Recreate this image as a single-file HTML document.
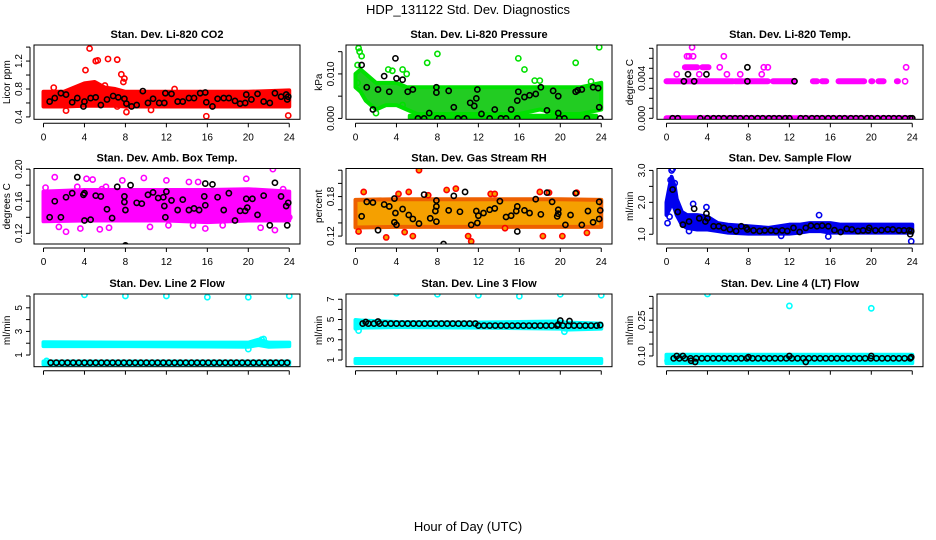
<!DOCTYPE html>
<html><head><meta charset="utf-8"><style>
body{margin:0;background:#fff}
svg{display:block;font-family:"Liberation Sans",sans-serif}
</style></head><body>
<svg id="chart" width="936" height="540" viewBox="0 0 936 540">
<text x="468" y="14" text-anchor="middle" font-size="13">HDP_131122  Std. Dev. Diagnostics</text>
<text x="468" y="531" text-anchor="middle" font-size="13">Hour of Day (UTC)</text>
</svg>
<script>
// ---- data (hours, values) ----
const xTicks = [0,4,8,12,16,20,24];
const panelTitles = ["Stan. Dev. Li-820 CO2","Stan. Dev. Li-820 Pressure","Stan. Dev. Li-820 Temp.","Stan. Dev. Amb. Box Temp.","Stan. Dev. Gas Stream RH","Stan. Dev. Sample Flow","Stan. Dev. Line 2 Flow","Stan. Dev. Line 3 Flow","Stan. Dev. Line 4 (LT) Flow"];
const yTitles = ["Licor ppm","kPa","degrees C","degrees C","percent","ml/min","ml/min","ml/min","ml/min"];
const yTickVals = [[0.4,0.6,0.8,1.0,1.2,1.4],[0,0.005,0.01,0.015],[0,0.001,0.002,0.003,0.004,0.005,0.006,0.007],[0.12,0.14,0.16,0.18,0.2],[0.12,0.14,0.16,0.18,0.2,0.22],[1,1.5,2,2.5,3],[1,2,3,4,5,6],[1,2,3,4,5,6,7],[0.1,0.15,0.2,0.25,0.3,0.35]];
const yTickLabels = [["0.4","","0.8","","1.2",""],["0.000","","0.010",""],["0.000","","","","0.004","","",""],["0.12","","0.16","","0.20"],["0.12","","","0.18","",""],["1.0","","2.0","","3.0"],["1","","3","","5",""],["1","","3","","5","","7"],["0.10","","","0.25","",""]];
const yLimits = [[0.366,1.43],[-0.0002,0.0165],[-0.0001,0.00733],[0.1067,0.2008],[0.108,0.2226],[0.695,3.06],[0.01,6.17],[0.34,7.52],[0.055,0.36]];

// bands: [hours, lows, highs]
const co2Band = [[0,2,4,5,6,7,8,12,16,20,24],[0.55,0.55,0.56,0.56,0.56,0.56,0.55,0.55,0.55,0.55,0.55],[0.76,0.76,0.88,0.9,0.82,0.8,0.76,0.76,0.76,0.76,0.78]];
const presBand = [[0,0.5,1,2,3,4,5,6,8,10,12,14,16,18,20,22,24],[0.007,0.006,0.004,0.002,0.003,0.003,0.002,0.001,0.001,0.001,0.001,0.001,0.001,0.002,0.001,0.001,0.002],[0.010,0.011,0.010,0.008,0.008,0.008,0.007,0.007,0.007,0.007,0.007,0.007,0.007,0.007,0.007,0.007,0.008]];
const presBase = [[5.3,23.5],[0,0],[0.0006,0.0006]];
const ambBand = [[0,4,8,12,16,20,24],[0.135,0.136,0.136,0.136,0.134,0.136,0.136],[0.172,0.174,0.174,0.174,0.174,0.175,0.172]];
const rhBand = [[0,4,8,12,16,20,24],[0.133,0.134,0.134,0.134,0.134,0.134,0.134],[0.175,0.176,0.176,0.176,0.176,0.176,0.175]];
const flowBand = [[0,0.3,0.5,0.8,1,1.5,2,3,4,5,6,8,10,12,13,14,15,16,17,18,20,22,24],[1.6,1.8,2.0,1.8,1.6,1.3,1.2,1.15,1.15,1.1,1.05,1.02,1.02,1.02,1.05,1.1,1.1,1.05,1.05,1.05,1.05,1.05,1.05],[2.0,2.5,2.8,2.5,2.1,1.7,1.6,1.6,1.55,1.35,1.3,1.25,1.2,1.3,1.3,1.35,1.35,1.35,1.3,1.3,1.3,1.3,1.3]];
const l2BandHi = [[0,8,16,20,21,22,24],[1.75,1.75,1.72,1.7,1.85,1.7,1.75],[2.08,2.05,2.05,2.05,2.3,2.05,2.05]];
const l2BandLo = [[0,24],[0.2,0.2],[0.45,0.45]];
const l3BandHi = [[0,0.5,4,12,20,20.5,24],[4.1,4.2,4.25,4.2,4.1,4.0,4.1],[4.95,4.9,4.75,4.7,4.8,4.7,4.6]];
const l3BandLo = [[0,24],[0.7,0.7],[1.1,1.1]];
const l4Band = [[0,12,24],[0.07,0.07,0.07],[0.105,0.105,0.105]];

// runs: [startHour, endHour, value]
const tempRuns = [[0,24,0],[0,4.6,0.0037],[4.7,6.5,0.0037],[6.7,7.4,0.0037],[7.6,9.9,0.0037],[10.4,12.5,0.0037],[14.3,14.7,0.0037],[15.2,15.6,0.0037],[16.8,19.3,0.0037],[20,20.1,0.0037],[20.7,21.2,0.0037],[22.5,22.6,0.0037],[1.8,3.0,0.0051],[3.5,4.1,0.0051]];
const l2BlackRun = [[0.7,24,0.35]];
const l3BlackRun = [[0.7,12,4.6],[12,24,4.4]];
const l4BlackRun = [[0.7,24,0.09]];

// colored outlier points [hour, value]
const co2Red = [[4.5,1.38],[4.1,1.07],[5.1,1.2],[5.3,1.21],[6.3,1.23],[7.2,1.22],[7.6,1.01],[7.9,0.95],[7.8,0.9],[8.1,0.47],[15.9,0.41],[23.9,0.42],[1,0.82],[2.2,0.49],[12.8,0.8],[7.2,0.55],[10.5,0.5],[3.5,0.82],[6,0.85]];
const presGreen = [[0.3,0.0158],[0.4,0.015],[0.6,0.014],[0.2,0.012],[8,0.0145],[7,0.0125],[4.6,0.011],[3.2,0.011],[3.6,0.0107],[5,0.01],[15.9,0.0135],[16.5,0.011],[21.5,0.0125],[23.8,0.016],[18,0.0085],[17.5,0.0085],[2,0.0012],[4.6,0.003],[23,0.0083],[0.2,0.008]];
const tempMag = [[1,0.0044],[2,0.0062],[2.2,0.0062],[2.6,0.0062],[2.5,0.0071],[3.2,0.0044],[5.2,0.0051],[5.6,0.0062],[5.9,0.0044],[7.2,0.0044],[9.3,0.0044],[9.5,0.0051],[9.9,0.0051],[23.4,0.0051],[23.3,0.0037]];
const ambMag = [[0.2,0.177],[1.1,0.19],[2.2,0.122],[1.5,0.128],[3.6,0.126],[4.2,0.188],[4.8,0.187],[5.5,0.125],[6.4,0.127],[6.1,0.178],[7.7,0.186],[9.8,0.189],[10.4,0.128],[12,0.186],[12.2,0.13],[14.2,0.184],[14.6,0.13],[15.1,0.184],[15.8,0.126],[17.5,0.13],[19.8,0.188],[21.2,0.127],[22.4,0.2],[22.6,0.124],[23.4,0.175],[24,0.14],[3.3,0.178],[5.7,0.175]];
const rhOrange = [[0.3,0.127],[0.8,0.187],[3,0.118],[4.2,0.184],[5.2,0.187],[5.6,0.12],[6.2,0.22],[7.1,0.182],[8.9,0.19],[9.8,0.192],[11,0.12],[11.3,0.112],[13.2,0.184],[13.6,0.184],[14.6,0.132],[18,0.187],[18.3,0.12],[18.9,0.186],[20.2,0.12],[21.6,0.186],[4.8,0.126],[22.6,0.125]];
const flowBlue = [[0.1,1.35],[0.3,1.55],[0.5,3.0],[0.6,3.05],[0.4,2.7],[0.8,2.6],[3.9,1.85],[2.6,1.95],[14.9,1.6],[15.8,0.93],[23.9,0.78],[11.2,0.95],[2.2,1.1],[0.2,1.95]];
const l2Cyan = [[4,6.1],[8,6.0],[12,6.0],[16,5.9],[20,5.9],[24,6.0],[0.3,0.5],[20,1.5],[21.5,2.35],[21.3,2.3]];
const l3Cyan = [[4,7.6],[8,7.5],[12,7.4],[16,7.3],[20,7.5],[24,7.4],[0.3,3.9],[20.4,3.8]];
const l4Cyan = [[4,0.36],[12,0.31],[20,0.3],[0.1,0.08]];

// black points
const co2Black = [[0.6,0.62],[1.1,0.67],[1.7,0.74],[2.2,0.72],[2.8,0.61],[3.3,0.67],[3.9,0.55],[4,0.62],[4.6,0.67],[5.1,0.68],[5.6,0.57],[6.2,0.65],[6.8,0.7],[7.3,0.68],[7.9,0.66],[8.1,0.59],[8.6,0.55],[9.1,0.57],[9.7,0.77],[10.2,0.6],[10.7,0.66],[11.3,0.6],[11.8,0.6],[11.9,0.74],[12.5,0.73],[13.1,0.62],[13.6,0.62],[14.2,0.67],[14.7,0.67],[15.3,0.74],[15.8,0.75],[15.9,0.61],[16.5,0.55],[17,0.66],[17.6,0.67],[18.1,0.67],[18.7,0.63],[19.2,0.59],[19.7,0.6],[19.8,0.72],[20.3,0.65],[20.9,0.73],[21.5,0.62],[22.1,0.6],[22.6,0.74],[23.2,0.69],[23.7,0.72],[23.8,0.65],[23.9,0.69]];
const presBlack = [[0.6,0.012],[1.1,0.007],[1.7,0.002],[2.2,0.0065],[2.8,0.0095],[3.3,0.006],[3.9,0.0135],[4,0.009],[4.6,0.0087],[5.1,0.006],[5.6,0.0065],[6.1,0],[6.7,0],[7.2,0.0012],[7.9,0.007],[7.9,0.0058],[8,0],[8.5,0],[9.1,0.0062],[9.6,0.0025],[10,0],[10.6,0],[11.2,0.0035],[11.6,0.0028],[11.8,0.0045],[11.9,0.0065],[12.3,0.001],[13.1,0],[13.6,0.002],[14.2,0],[14.7,0],[15.2,0.002],[15.8,0.004],[15.9,0.006],[15.8,0],[16.5,0.0048],[17,0.0052],[17.6,0.0055],[18.1,0.007],[18.7,0.0018],[19.3,0.0062],[19.8,0.005],[19.8,0.0012],[19.9,0],[20.4,0],[21.5,0.006],[21.7,0.0063],[22.1,0.0065],[22.6,0],[23.2,0.007],[23.7,0.0068],[23.8,0.0025],[23.9,0]];
const tempBlack = [[0.6,0],[1.1,0],[1.7,0.0037],[2.1,0.0044],[2.7,0.0037],[3.3,0],[3.9,0.0044],[4,0],[7.9,0.0051],[7.9,0.0037],[12.5,0.0037],[4.6,0],[5.1,0],[5.6,0],[6.2,0],[6.7,0],[7.2,0],[7.8,0],[8.3,0],[8.9,0],[9.4,0],[10,0],[10.5,0],[11,0],[11.6,0],[12,0],[13.1,0],[13.6,0],[14.2,0],[14.7,0],[15.2,0],[15.8,0],[16.3,0],[16.9,0],[17.4,0],[18,0],[18.5,0],[19,0],[19.6,0],[20,0],[20.6,0],[21.2,0],[21.7,0],[22.2,0],[22.7,0],[23.3,0],[23.8,0],[24,0]];
const ambBlack = [[0.6,0.14],[1.1,0.16],[1.7,0.14],[2.2,0.165],[2.8,0.17],[3.3,0.19],[3.9,0.168],[4,0.17],[4,0.136],[4.6,0.137],[5.1,0.167],[5.6,0.166],[6.2,0.15],[6.7,0.139],[7.2,0.178],[7.9,0.166],[7.9,0.159],[8,0.149],[8,0.105],[8.5,0.18],[9.1,0.158],[9.6,0.157],[10.2,0.168],[10.7,0.171],[11.2,0.164],[11.7,0.165],[11.8,0.154],[11.9,0.14],[12,0.172],[12.5,0.161],[13.1,0.149],[13.6,0.162],[14.2,0.149],[14.7,0.151],[15.2,0.149],[15.8,0.182],[15.7,0.166],[15.8,0.155],[16.5,0.181],[17,0.165],[17.6,0.149],[18.1,0.17],[18.7,0.136],[19.2,0.148],[19.7,0.148],[19.8,0.163],[19.9,0.152],[20.4,0.163],[20.9,0.143],[21.5,0.167],[22.1,0.13],[22.6,0.183],[23.2,0.166],[23.7,0.154],[23.8,0.13],[23.9,0.158]];
const rhBlack = [[0.6,0.15],[1.1,0.172],[1.7,0.171],[2.2,0.129],[2.8,0.168],[3.3,0.165],[3.8,0.177],[3.9,0.155],[3.8,0.141],[4,0.137],[4.6,0.161],[5.2,0.152],[5.6,0.146],[6.2,0.139],[6.7,0.183],[7.3,0.147],[7.9,0.174],[7.9,0.165],[7.8,0.158],[7.9,0.142],[8.6,0.108],[9.1,0.159],[9.6,0.181],[10.2,0.157],[10.7,0.187],[11.3,0.137],[11.8,0.158],[11.9,0.14],[12,0.151],[12.5,0.155],[13.1,0.16],[13.6,0.162],[14.1,0.173],[14.7,0.149],[15.2,0.151],[15.8,0.165],[15.7,0.158],[15.8,0.127],[16.5,0.159],[17,0.155],[17.6,0.176],[18.1,0.153],[18.7,0.186],[19.2,0.172],[19.8,0.16],[19.8,0.154],[19.7,0.15],[20.5,0.137],[21,0.152],[21.5,0.185],[22.1,0.137],[22.7,0.158],[23.2,0.141],[23.8,0.172],[23.9,0.159],[23.8,0.146]];
const flowBlack = [[0.6,2.4],[1.1,1.7],[1.6,1.3],[2.2,1.4],[2.7,1.8],[3.2,1.5],[3.8,1.4],[3.9,1.65],[4,1.5],[4.6,1.25],[5.1,1.25],[5.6,1.2],[6.2,1.15],[6.8,1.1],[7.3,1.25],[7.8,1.2],[7.9,1.15],[8.5,1.12],[9.1,1.1],[9.6,1.12],[10.2,1.12],[10.7,1.1],[11.3,1.12],[11.8,1.1],[12.4,1.2],[13,1.07],[13.6,1.2],[14.1,1.27],[14.7,1.25],[15.2,1.27],[15.8,1.25],[16.4,1.13],[17,1.07],[17.6,1.17],[18.1,1.15],[18.7,1.1],[19.2,1.12],[19.7,1.12],[19.8,1.2],[20.4,1.12],[21,1.13],[21.6,1.15],[22.1,1.15],[22.7,1.12],[23.2,1.12],[23.7,1.12],[23.8,1.0],[23.9,1.1]];
const l3Black = [[1,4.75],[2.2,4.8],[20,4.9],[20.9,4.85],[23.9,4.45],[19.8,4.5]];
const l4Black = [[1,0.1],[1.6,0.1],[2.4,0.08],[2.8,0.075],[8,0.095],[12,0.1],[13.6,0.075],[20,0.1],[23.9,0.095]];

// ---- drawing ----
const NS = "http://www.w3.org/2000/svg";
const svg = document.getElementById('chart');
const boxLeft = [34,346,657], boxW = 266;
const boxTop = [45,168.5,294], boxH = [74.3,75.5,72.7];
const pxPerHour = 10.24, x0Off = 9.5;

function mk(tag, attrs, parent){ const e = document.createElementNS(NS, tag); for (const k in attrs) e.setAttribute(k, attrs[k]); (parent||svg).appendChild(e); return e; }
function xScale(p,h){ return boxLeft[p%3] + x0Off + h*pxPerHour; }
function yScale(p,v){ const r = Math.floor(p/3), lim = yLimits[p]; return boxTop[r] + boxH[r] - (v-lim[0])/(lim[1]-lim[0])*boxH[r]; }

const groups = [];
for (let p=0;p<9;p++){
  const g = mk('g',{});
  
  
  const c = p%3, r = Math.floor(p/3), L = boxLeft[c], T = boxTop[r], H = boxH[r], B = T+H;
  const clipId = 'clip'+p;
  const cp = mk('clipPath',{id:clipId},g); mk('rect',{x:L,y:T,width:boxW,height:H},cp);
  const pg = mk('g',{'clip-path':'url(#'+clipId+')'},g);
  groups.push(pg);
  const tt = mk('text',{x:L+boxW/2,y:T-7,'text-anchor':'middle','font-size':'11','font-weight':'bold'},g);
  tt.textContent = panelTitles[p];
  
  
  const box = mk('rect',{x:L,y:T,width:boxW,height:H,fill:'none',stroke:'#000','stroke-width':1},g);
  
  
  // x axis
  const xa = mk('g',{},g);
  
  
  mk('line',{x1:xScale(p,0),x2:xScale(p,24),y1:B+4,y2:B+4,stroke:'#000'},xa);
  xTicks.forEach(t=>{
    const x = xScale(p,t);
    mk('line',{x1:x,x2:x,y1:B+4,y2:B+8,stroke:'#000'},xa);
    if (r<2){ const tx = mk('text',{x:x,y:B+21,'text-anchor':'middle','font-size':'10'},xa); tx.textContent = t;
      
       }
  });
  // y axis
  const ya = mk('g',{},g);
  
  
  const tv = yTickVals[p];
  mk('line',{x1:L-4,x2:L-4,y1:yScale(p,tv[0]),y2:yScale(p,tv[tv.length-1]),stroke:'#000'},ya);
  tv.forEach((v,i)=>{
    const y = yScale(p,v);
    mk('line',{x1:L-8,x2:L-4,y1:y,y2:y,stroke:'#000'},ya);
    if (yTickLabels[p][i]){ const tx = mk('text',{x:L-12,y:y,'text-anchor':'middle','font-size':'10',transform:'rotate(-90 '+(L-12)+' '+y+')'},ya); tx.textContent = yTickLabels[p][i];
      
       }
  });
  const yt = mk('text',{x:L-24,y:T+H/2,'text-anchor':'middle','font-size':'10',transform:'rotate(-90 '+(L-24)+' '+(T+H/2)+')'},g);
  yt.textContent = yTitles[p];
  
  
}

function band(p, b, fill, stroke){
  const [hs, lo, hi] = b;
  let pts = hs.map((h,i)=>xScale(p,h)+','+yScale(p,hi[i]));
  pts = pts.concat(hs.map((h,i)=>xScale(p,h)+','+yScale(p,lo[i])).reverse());
  const e = mk('polygon',{points:pts.join(' '),fill:fill,stroke:stroke,'stroke-width':4,'stroke-linejoin':'round'},groups[p]);
  
  
}
function points(p, arr, color, fill){
  arr.forEach(([h,v])=>{
    const e = mk('circle',{cx:xScale(p,h),cy:yScale(p,v),r:2.6,fill:fill||'none',stroke:color,'stroke-width':1.6},groups[p]);
    
    
  });
}
function runsLine(p, runs, color){
  runs.forEach(([a,b,v])=>{
    const e = mk('line',{x1:xScale(p,a),x2:xScale(p,b),y1:yScale(p,v),y2:yScale(p,v),stroke:color,'stroke-width':6,'stroke-linecap':'round'},groups[p]);
    
    
  });
}
function runsDots(p, runs, color){
  runs.forEach(([a,b,v])=>{
    for (let h=a; h<=b+1e-6; h+=0.55){
      const e = mk('circle',{cx:xScale(p,h),cy:yScale(p,v),r:2.6,fill:'none',stroke:color,'stroke-width':1.6},groups[p]);
      
      
    }
  });
}

const RED='#ff0000', GRN='#00e000', MAG='#ff00ff', ORG='#f5a000', BLU='#0000ee', CYN='#00ffff', BLK='#000';
band(0, co2Band, RED, RED); points(0, co2Red, RED); points(0, co2Black, BLK);
band(1, presBand, '#22cc22', GRN); band(1, presBase, GRN, GRN); points(1, presGreen, GRN); points(1, presBlack, BLK);
runsLine(2, tempRuns, MAG); points(2, tempMag, MAG); points(2, tempBlack, BLK);
band(3, ambBand, MAG, MAG); points(3, ambMag, MAG); points(3, ambBlack, BLK);
band(4, rhBand, ORG, '#ee6000'); points(4, rhOrange, RED, ORG); points(4, rhBlack, BLK);
band(5, flowBand, BLU, BLU); points(5, flowBlue, BLU); points(5, flowBlack, BLK);
band(6, l2BandHi, CYN, CYN); band(6, l2BandLo, CYN, CYN); points(6, l2Cyan, CYN); runsDots(6, l2BlackRun, BLK);
band(7, l3BandHi, CYN, CYN); band(7, l3BandLo, CYN, CYN); points(7, l3Cyan, CYN); runsDots(7, l3BlackRun, BLK); points(7, l3Black, BLK);
band(8, l4Band, CYN, CYN); points(8, l4Cyan, CYN); runsDots(8, l4BlackRun, BLK); points(8, l4Black, BLK);
</script>
</body></html>
